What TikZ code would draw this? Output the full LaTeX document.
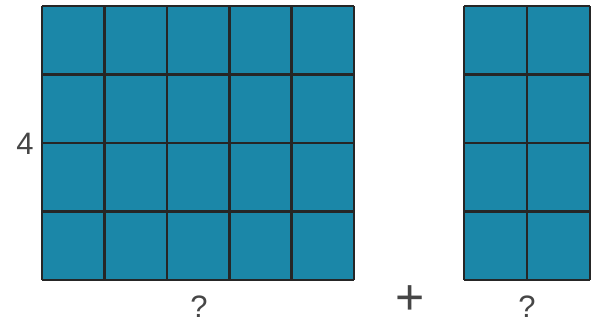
\documentclass[tikz,border=0pt]{standalone}
\usepackage{fontspec}
\setmainfont{Liberation Sans}
\definecolor{tile}{RGB}{27,135,168}
\definecolor{ink}{RGB}{70,70,70}

\begin{document}
\begin{tikzpicture}[x=1pt,y=-1pt,
    grid/.style={line width=2.6pt,black!85},
    lbl/.style={text=ink,font=\fontsize{31}{31}\selectfont,inner sep=0pt}]
  \useasboundingbox (0,0) rectangle (591,325);
  % big block
  \fill[tile] (42,6) rectangle (354,280);
  \foreach \i in {0,...,5}
    \draw[grid] (42+62.4*\i,6) -- (42+62.4*\i,280);
  \foreach \j in {0,...,4}
    \draw[grid] (42,6+68.5*\j) -- (354,6+68.5*\j);
  % small block
  \fill[tile] (464,6) rectangle (590,280);
  \foreach \i in {0,...,2}
    \draw[grid] (464+63*\i,6) -- (464+63*\i,280);
  \foreach \j in {0,...,4}
    \draw[grid] (464,6+68.5*\j) -- (590,6+68.5*\j);
  % labels
  \node[lbl] (four) at (25,144) {4};
  \node[lbl] (qbig) at (199,307) {?};
  \node[lbl,font=\fontsize{50}{50}\selectfont] (plus) at (410,300) {+};
  \node[lbl] (qsmall) at (527,307) {?};
\end{tikzpicture}
\end{document}
